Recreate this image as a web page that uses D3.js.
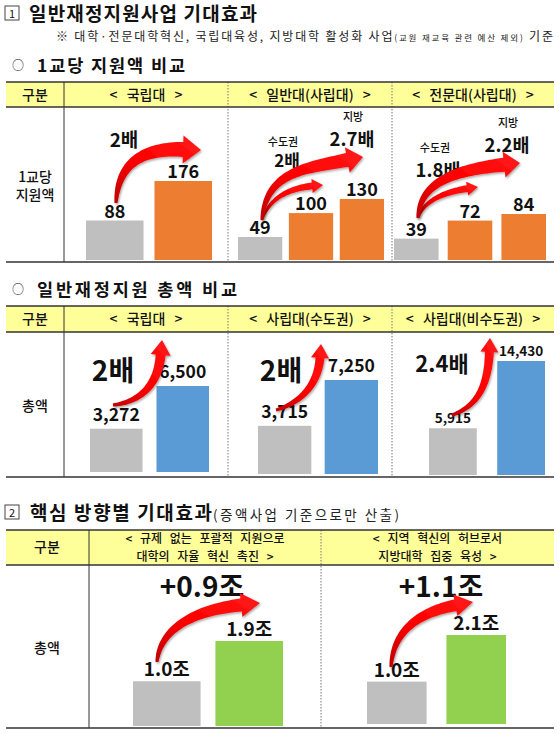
<!DOCTYPE html>
<html><head><meta charset="utf-8">
<script src="https://cdn.jsdelivr.net/npm/d3@7"></script>
<style>body{margin:0;background:#fff}svg{display:block}</style>
</head><body>
<script>
// ---------------- DATA ----------------
const t1Groups = ["< 국립대 >", "< 일반대(사립대) >", "< 전문대(사립대) >"];
const t1Values = [[88, 176], [49, 100, 130], [39, 72, 84]];
const t1Ratios = [
  [{region: "", text: "2배"}],
  [{region: "수도권", text: "2배"}, {region: "지방", text: "2.7배"}],
  [{region: "수도권", text: "1.8배"}, {region: "지방", text: "2.2배"}]
];
const t2Groups = ["< 국립대 >", "< 사립대(수도권) >", "< 사립대(비수도권) >"];
const t2Values = [[3272, 6500], [3715, 7250], [5915, 14430]];
const t2Ratios = ["2배", "2배", "2.4배"];
const t3Groups = [["< 규제 없는 포괄적 지원으로", "대학의 자율 혁신 촉진 >"], ["< 지역 혁신의 허브로서", "지방대학 집중 육성 >"]];
const t3Values = [[1.0, 1.9], [1.0, 2.1]];
const t3Increase = ["+0.9조", "+1.1조"];

// ---------------- STYLE / LAYOUT ----------------
const W = 560, H = 734;
const FONT = "'Noto Sans CJK KR','Noto Sans',sans-serif";
const GRAY = "#bfbfbf", ORANGE = "#ed7d31", BLUE = "#5b9bd5", GREEN = "#92d050", YELLOW = "#ffff99", LINE = "#333";

const svg = d3.select("body").append("svg").attr("width", W).attr("height", H)
  .style("font-family", FONT);
const defs = svg.append("defs");
const grad = defs.append("linearGradient").attr("id", "rg").attr("x1", 0).attr("y1", 1).attr("x2", 1).attr("y2", 0);
grad.append("stop").attr("offset", "0%").attr("stop-color", "#c00000");
grad.append("stop").attr("offset", "45%").attr("stop-color", "#ff0000");
grad.append("stop").attr("offset", "100%").attr("stop-color", "#ff1a1a");
const sh = defs.append("filter").attr("id", "sh").attr("x", "-20%").attr("y", "-20%").attr("width", "140%").attr("height", "140%");
sh.append("feDropShadow").attr("dx", 1).attr("dy", 1.5).attr("stdDeviation", 1).attr("flood-color", "#000").attr("flood-opacity", 0.35);

function txt(x, y, s, size, weight, anchor, fill) {
  return svg.append("text").attr("x", x).attr("y", y).text(s)
    .attr("font-size", size).attr("font-weight", weight || "normal")
    .attr("text-anchor", anchor || "middle").attr("fill", fill || "#111");
}

// Curved tapered arrow
function arrow(a) {
  const [x0, y0] = a.p0, [c1x, c1y] = a.c1, [c2x, c2y] = a.c2, [tx, ty] = a.tip;
  let dx = tx - c2x, dy = ty - c2y; const dl = Math.hypot(dx, dy); dx /= dl; dy /= dl;
  const bx = tx - dx * a.hl, by = ty - dy * a.hl;
  const N = 40, L = [], R = [];
  for (let i = 0; i <= N; i++) {
    const t = i / N, u = 1 - t;
    const px = u*u*u*x0 + 3*u*u*t*c1x + 3*u*t*t*c2x + t*t*t*bx;
    const py = u*u*u*y0 + 3*u*u*t*c1y + 3*u*t*t*c2y + t*t*t*by;
    let qx = 3*u*u*(c1x-x0) + 6*u*t*(c2x-c1x) + 3*t*t*(bx-c2x);
    let qy = 3*u*u*(c1y-y0) + 6*u*t*(c2y-c1y) + 3*t*t*(by-c2y);
    const ql = Math.hypot(qx, qy) || 1; qx /= ql; qy /= ql;
    const nx = -qy, ny = qx;
    const w = (a.w0 + (a.w1 - a.w0) * Math.pow(t, 0.8)) / 2;
    L.push([px + nx*w, py + ny*w]); R.push([px - nx*w, py - ny*w]);
  }
  const nx = -dy, ny = dx;
  const pts = L.concat([[bx + nx*a.hw, by + ny*a.hw], [tx, ty], [bx - nx*a.hw, by - ny*a.hw]], R.reverse());
  svg.append("path").attr("d", "M" + pts.map(p => p[0].toFixed(1) + "," + p[1].toFixed(1)).join("L") + "Z")
    .attr("fill", "url(#rg)").attr("filter", "url(#sh)");
}

function numberBox(x, y, n) {
  svg.append("rect").attr("x", x).attr("y", y).attr("width", 14).attr("height", 14)
    .attr("fill", "#fff").attr("stroke", "#444").attr("stroke-width", 1);
  txt(x + 7, y + 11.5, n, 11, "normal");
}

// table frame
function table(tb) {
  const {top, hb, bottom, cols} = tb;
  svg.append("rect").attr("x", cols[0]).attr("y", top).attr("width", cols[cols.length-1] - cols[0]).attr("height", hb - top).attr("fill", YELLOW);
  svg.append("line").attr("x1", cols[1]).attr("x2", cols[1]).attr("y1", top).attr("y2", bottom).attr("stroke", LINE).attr("stroke-width", 1);
  for (let i = 2; i < cols.length - 1; i++)
    svg.append("line").attr("x1", cols[i]).attr("x2", cols[i]).attr("y1", top).attr("y2", bottom)
      .attr("stroke", "#777").attr("stroke-width", 1).attr("stroke-dasharray", "1.5,1.5");
  [top, hb, bottom].forEach(y => svg.append("line").attr("x1", cols[0]).attr("x2", cols[cols.length-1])
    .attr("y1", y).attr("y2", y).attr("stroke", LINE).attr("stroke-width", 1.6));
}

// bars for a panel
function panel(values, cfg, color, fmt, labelSize, labelOff) {
  const x = d3.scaleBand().domain(d3.range(values.length)).range(cfg.range).paddingInner(cfg.pad).paddingOuter(0);
  const y = d3.scaleLinear().domain([0, d3.max(values)]).range([cfg.base, cfg.base - cfg.maxH]);
  svg.append("g").selectAll("rect").data(values).join("rect")
    .attr("x", (d, i) => x(i)).attr("width", x.bandwidth())
    .attr("y", d => y(d)).attr("height", d => cfg.base - y(d))
    .attr("fill", (d, i) => i === 0 ? GRAY : color);
  svg.append("g").selectAll("text").data(values).join("text")
    .attr("x", (d, i) => x(i) + x.bandwidth() / 2)
    .attr("y", d => y(d) - labelOff)
    .attr("text-anchor", "middle").attr("font-weight", "bold")
    .attr("font-size", labelSize)
    .attr("fill", "#111").text(fmt);
  return {x, y};
}

// ---------------- TITLE ----------------
numberBox(5, 6, "1");
txt(29, 21, "일반재정지원사업 기대효과", 19, "bold", "start").attr("textLength", 228).attr("lengthAdjust", "spacing");
const sub = svg.append("text").attr("x", 56).attr("y", 41).attr("font-size", 12).attr("fill", "#222").attr("text-anchor", "start");
sub.append("tspan").text("※ 대학·전문대학혁신, 국립대육성, 지방대학 활성화 사업");
sub.append("tspan").attr("font-size", 8.5).text("(교원 재교육 관련 예산 제외)");
sub.append("tspan").text(" 기준");
sub.attr("textLength", 497).attr("lengthAdjust", "spacing");

// ---------------- TABLE 1 ----------------
txt(18, 70, "○", 12, "normal");
txt(37, 72, "1교당 지원액 비교", 17.5, "bold", "start").attr("textLength", 148).attr("lengthAdjust", "spacing");
const T1 = {top: 82, hb: 107, bottom: 262, cols: [6, 64, 228, 392, 554]};
table(T1);
txt(35, 100, "구분", 14, "500");
t1Groups.forEach((g, i) => txt((T1.cols[i+1] + T1.cols[i+2]) / 2, 100, g, 14, "500").attr("word-spacing", 6));
txt(35, 182, "1교당", 14, "500");
txt(35, 200, "지원액", 14, "500");

const t1Cfg = [
  {range: [86, 212], pad: 0.16, base: 260, maxH: 79},
  {range: [238, 384], pad: 0.13, base: 260, maxH: 61},
  {range: [394, 546], pad: 0.17, base: 260, maxH: 46}
];
t1Values.forEach((v, i) => panel(v, t1Cfg[i], ORANGE, d => d, 18, 3));

// ratio annotations (table 1)
txt(124, 147, t1Ratios[0][0].text, 19, "bold");
txt(283, 146, t1Ratios[1][0].region, 11, "500");
txt(287, 167, t1Ratios[1][0].text, 17, "bold");
txt(353, 121, t1Ratios[1][1].region, 11, "500");
txt(352, 146, t1Ratios[1][1].text, 18.5, "bold");
txt(435, 152, t1Ratios[2][0].region, 11, "500");
txt(438, 177, t1Ratios[2][0].text, 18.5, "bold");
txt(508, 127, t1Ratios[2][1].region, 11, "500");
txt(507, 152, t1Ratios[2][1].text, 18.5, "bold");

arrow({p0: [116, 203], c1: [118, 165], c2: [140, 148], tip: [201, 150], w0: 3, w1: 15, hw: 14, hl: 18});
arrow({p0: [262, 220], c1: [270, 196], c2: [292, 188], tip: [323, 185], w0: 2, w1: 7, hw: 7, hl: 11});
arrow({p0: [262, 220], c1: [266, 172], c2: [305, 168], tip: [363, 157], w0: 3, w1: 14, hw: 13, hl: 16});
arrow({p0: [418, 218], c1: [424, 200], c2: [445, 192], tip: [478, 187], w0: 2, w1: 7, hw: 7, hl: 11});
arrow({p0: [418, 218], c1: [420, 182], c2: [455, 170], tip: [520, 163], w0: 3, w1: 14, hw: 13, hl: 16});

// ---------------- TABLE 2 ----------------
txt(18, 294, "○", 12, "normal");
txt(37, 296, "일반재정지원 총액 비교", 17.5, "bold", "start").attr("textLength", 200).attr("lengthAdjust", "spacing");
const T2 = {top: 306, hb: 332, bottom: 477, cols: [6, 64, 228, 392, 554]};
table(T2);
txt(35, 324, "구분", 14, "500");
t2Groups.forEach((g, i) => txt((T2.cols[i+1] + T2.cols[i+2]) / 2, 324, g, 14, "500").attr("word-spacing", 6));
txt(35, 411, "총액", 14, "500");

const t2Cfg = [
  {range: [90, 209], pad: 0.21, base: 472, maxH: 86},
  {range: [258, 378], pad: 0.2, base: 474, maxH: 94},
  {range: [429, 545], pad: 0.3, base: 475, maxH: 114}
];
const fmt2 = d3.format(",");
t2Values.forEach((v, i) => panel(v, t2Cfg[i], BLUE, fmt2, i === 2 ? 13.5 : 17.5, i === 2 ? 5 : 8));
txt(113, 381, t2Ratios[0], 28, "bold");
txt(281, 381, t2Ratios[1], 28, "bold");
txt(442, 372, t2Ratios[2], 22, "bold");
arrow({p0: [113, 405], c1: [140, 402], c2: [158, 385], tip: [162, 340], w0: 3, w1: 10, hw: 10, hl: 15});
arrow({p0: [276, 410], c1: [300, 403], c2: [318, 385], tip: [321, 344], w0: 3, w1: 9, hw: 9, hl: 14});
arrow({p0: [452, 415], c1: [478, 406], c2: [488, 385], tip: [490, 338], w0: 3, w1: 9, hw: 9, hl: 14});

// ---------------- SECTION 2 ----------------
numberBox(5, 505, "2");
txt(30, 520, "핵심 방향별 기대효과", 19, "bold", "start").attr("textLength", 182).attr("lengthAdjust", "spacing");
txt(213, 520, "(증액사업 기준으로만 산출)", 13.5, "normal", "start", "#222").attr("textLength", 186).attr("lengthAdjust", "spacing");

const T3 = {top: 530, hb: 565, bottom: 728, cols: [6, 89, 321, 554]};
table(T3);
txt(47, 552, "구분", 14, "500");
t3Groups.forEach((g, i) => {
  const cx = (T3.cols[i+1] + T3.cols[i+2]) / 2;
  txt(cx, 543, g[0], 12, "500").attr("word-spacing", 5);
  txt(cx, 561, g[1], 12, "500").attr("word-spacing", 5);
});
txt(47, 653, "총액", 14, "500");
const t3Cfg = [
  {range: [133, 283], pad: 0.18, base: 726, maxH: 85},
  {range: [367, 506], pad: 0.25, base: 724, maxH: 89}
];
const fmt3 = d => d3.format(".1f")(d) + "조";
t3Values.forEach((v, i) => panel(v, t3Cfg[i], GREEN, fmt3, 19, 5));
txt(202, 597, t3Increase[0], 28, "bold");
txt(441, 597, t3Increase[1], 28, "bold");
arrow({p0: [157, 662], c1: [160, 628], c2: [195, 610], tip: [260, 603], w0: 3, w1: 13, hw: 12, hl: 19});
arrow({p0: [391, 667], c1: [393, 630], c2: [420, 612], tip: [473, 602], w0: 3, w1: 12, hw: 11, hl: 18});
</script>
</body></html>
